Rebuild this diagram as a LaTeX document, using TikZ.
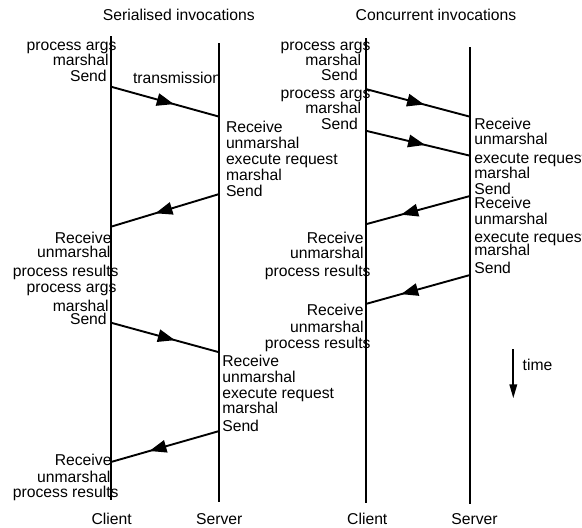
\documentclass[tikz,border=0pt]{standalone}
\usepackage{fontspec}
\setmainfont{Liberation Sans}
\usetikzlibrary{arrows.meta,decorations.markings}
\tikzset{
  txt/.style={inner sep=0pt, outer sep=0pt, font=\fontsize{15.7}{15.7}\selectfont},
  lt/.style={txt, anchor=base east},
  rt/.style={txt, anchor=base west},
  ct/.style={txt, anchor=base},
  life/.style={line width=1.9pt},
  msg/.style={line width=1.9pt, postaction={decorate},
    decoration={markings, mark=at position #1 with {\arrow{Triangle[length=17pt,width=12.5pt]}}}},
  timearrow/.style={line width=1.9pt, -{Triangle[length=14pt,width=7.5pt]}},
}
\begin{document}
\begin{tikzpicture}[x=1pt,y=-1pt]
\clip (0,0) rectangle (582,528);
% titles
\node[ct] (title1) at (178.8,20.3) {Serialised invocations};
\node[ct] (title2) at (436,20.3) {Concurrent invocations};
% lifelines
\coordinate (LCt) at (111,36);    \coordinate (LCb) at (111,500);
\coordinate (LSt) at (219.3,43);  \coordinate (LSb) at (219.3,502.3);
\coordinate (RCt) at (365.7,38);  \coordinate (RCb) at (365.7,502.7);
\coordinate (RSt) at (470,47);    \coordinate (RSb) at (470,504.3);
\draw[life] (LCt) -- (LCb);
\draw[life] (LSt) -- (LSb);
\draw[life] (RCt) -- (RCb);
\draw[life] (RSt) -- (RSb);
% message end points, serialised
\coordinate (a1) at (111,86.7);   \coordinate (b1) at (219.3,116.7);
\coordinate (a2) at (219.3,194);  \coordinate (b2) at (111,226.7);
\coordinate (a3) at (111,322.7);  \coordinate (b3) at (219.3,352.3);
\coordinate (a4) at (219.3,431);  \coordinate (b4) at (111,462);
\draw[msg=0.58] (a1) -- (b1);
\draw[msg=0.59] (a2) -- (b2);
\draw[msg=0.59] (a3) -- (b3);
\draw[msg=0.645] (a4) -- (b4);
% message end points, concurrent
\coordinate (c1) at (365.7,89);   \coordinate (d1) at (470,116.7);
\coordinate (c2) at (365.7,130.7);\coordinate (d2) at (470,155.7);
\coordinate (c3) at (470,196);    \coordinate (d3) at (365.7,224.3);
\coordinate (c4) at (470,275);    \coordinate (d4) at (365.7,304);
\draw[msg=0.56] (c1) -- (d1);
\draw[msg=0.57] (c2) -- (d2);
\draw[msg=0.66] (c3) -- (d3);
\draw[msg=0.66] (c4) -- (d4);
% serialised: client texts
\node[lt] (s1) at (116.5,50) {process args};
\node[lt] (s2) at (108.7,65.7) {marshal};
\node[lt] (s3) at (106.7,81) {Send};
\node[rt] (tr) at (133,83) {transmission};
\node[lt] (s4) at (111.5,243.5) {Receive};
\node[lt] (s5) at (110.5,257.5) {unmarshal};
\node[lt] (s6) at (118.5,276) {process results};
\node[lt] (s7) at (116.5,292.5) {process args};
\node[lt] (s8) at (108.7,311) {marshal};
\node[lt] (s9) at (106.7,324.3) {Send};
\node[lt] (s10) at (111.5,465) {Receive};
\node[lt] (s11) at (110.5,482) {unmarshal};
\node[lt] (s12) at (118.5,497.5) {process results};
% serialised: server texts
\node[rt] (v1) at (226,132.5) {Receive};
\node[rt] (v2) at (226,148) {unmarshal};
\node[rt] (v3) at (226,164) {execute request};
\node[rt] (v4) at (226,180) {marshal};
\node[rt] (v5) at (226,196) {Send};
\node[rt] (v6) at (222.3,366.5) {Receive};
\node[rt] (v7) at (222.3,382.5) {unmarshal};
\node[rt] (v8) at (222.3,398) {execute request};
\node[rt] (v9) at (222.3,413.5) {marshal};
\node[rt] (v10) at (222.3,431.5) {Send};
% concurrent: client texts
\node[lt] (k1) at (370.5,50) {process args};
\node[lt] (k2) at (361.2,65.3) {marshal};
\node[lt] (k3) at (357.8,80.7) {Send};
\node[lt] (k4) at (370.5,98.5) {process args};
\node[lt] (k5) at (361.2,113) {marshal};
\node[lt] (k6) at (357.8,129.3) {Send};
\node[lt] (k7) at (363.5,243) {Receive};
\node[lt] (k8) at (363.5,258) {unmarshal};
\node[lt] (k9) at (370.5,276.5) {process results};
\node[lt] (k10) at (363.5,315.7) {Receive};
\node[lt] (k11) at (363.5,332) {unmarshal};
\node[lt] (k12) at (370.5,348) {process results};
% concurrent: server texts
\node[rt] (w1) at (474.3,129.5) {Receive};
\node[rt] (w2) at (474.3,144.5) {unmarshal};
\node[rt] (w3) at (474.3,163) {execute request};
\node[rt] (w4) at (474.3,178.5) {marshal};
\node[rt] (w5) at (474.3,194.3) {Send};
\node[rt] (w6) at (474.3,208.5) {Receive};
\node[rt] (w7) at (474.3,224.5) {unmarshal};
\node[rt] (w8) at (474.3,242.5) {execute request};
\node[rt] (w9) at (474.3,255.5) {marshal};
\node[rt] (w10) at (474.3,273) {Send};
% time arrow
\coordinate (tt) at (513.3,349.3);
\coordinate (tb) at (513.3,398.3);
\draw[timearrow] (tt) -- (tb);
\node[rt] (time) at (522.7,370.5) {time};
% bottom labels
\node[ct] (lc) at (111.7,524) {Client};
\node[ct] (ls) at (219.2,524) {Server};
\node[ct] (rc) at (367.3,524) {Client};
\node[ct] (rs) at (474.5,524) {Server};
\end{tikzpicture}
\end{document}
